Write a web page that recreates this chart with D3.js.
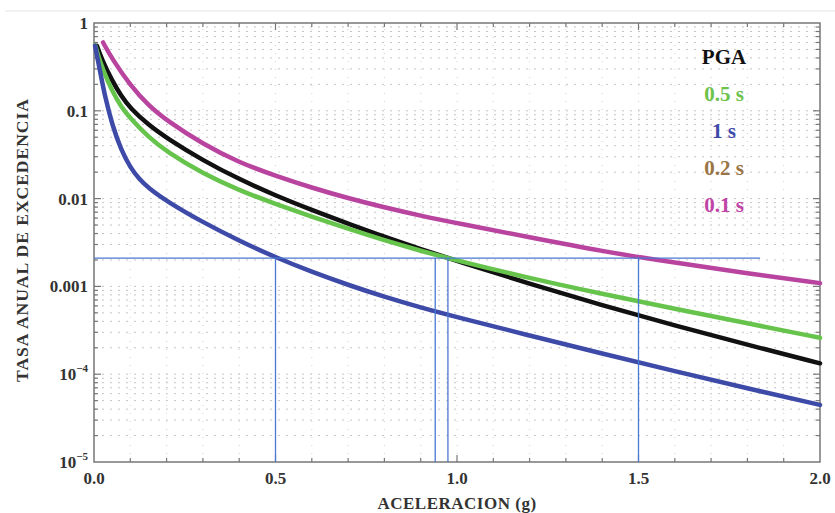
<!DOCTYPE html>
<html>
<head>
<meta charset="utf-8">
<script src="https://cdn.jsdelivr.net/npm/d3@7"></script>
<style>
  body { margin: 0; background: #fff; }
  svg text { font-family: "Liberation Serif", "DejaVu Serif", serif; font-weight: bold; }
</style>
</head>
<body>
<div id="chart"></div>
<script>
// Hazard curves - annual exceedance rate vs acceleration

const width = 835;
const height = 513;

// acceleration (g) and exceedance rate for each curve
const pgaX   = [0.008, 0.02, 0.05, 0.075, 0.1, 0.15, 0.2, 0.3, 0.4, 0.5, 0.6, 0.7, 0.8, 0.9, 1.0, 1.2, 1.4, 1.6, 1.8, 2.0];
const pgaY   = [0.55, 0.398, 0.219, 0.148, 0.107, 0.0692, 0.049, 0.0272, 0.0166, 0.01084, 0.00741, 0.00519, 0.00367, 0.00266, 0.00195, 0.00107, 0.00061, 0.000359, 0.000216, 0.000133];

const s05X   = [0.003, 0.012, 0.025, 0.05, 0.075, 0.1, 0.15, 0.2, 0.3, 0.4, 0.5, 0.6, 0.7, 0.8, 0.9, 1.0, 1.2, 1.4, 1.6, 1.8, 2.0];
const s05Y   = [0.56, 0.417, 0.29, 0.167, 0.111, 0.082, 0.0501, 0.0342, 0.0192, 0.0124, 0.0087, 0.00624, 0.00452, 0.00335, 0.00254, 0.00197, 0.00124, 0.00082, 0.000556, 0.00038, 0.00026];

const s1X    = [0.003, 0.01, 0.02, 0.03, 0.05, 0.075, 0.1, 0.125, 0.15, 0.2, 0.3, 0.4, 0.5, 0.6, 0.7, 0.8, 0.9, 1.0, 1.2, 1.4, 1.6, 1.8, 2.0];
const s1Y    = [0.55, 0.389, 0.24, 0.148, 0.0692, 0.0355, 0.0226, 0.0166, 0.0132, 0.00933, 0.00537, 0.00331, 0.00214, 0.00146, 0.00104, 0.000759, 0.000575, 0.000447, 0.000275, 0.000172, 0.000108, 0.000069, 0.0000447];

const s01X   = [0.025, 0.05, 0.1, 0.15, 0.2, 0.3, 0.4, 0.5, 0.6, 0.7, 0.8, 0.9, 1.0, 1.2, 1.4, 1.6, 1.8, 2.0];
const s01Y   = [0.6, 0.389, 0.195, 0.115, 0.0776, 0.0417, 0.0257, 0.0182, 0.0133, 0.0101, 0.00794, 0.00638, 0.00525, 0.00363, 0.00251, 0.00186, 0.00141, 0.00109];

const refRate = 0.0021;
const refRateEnd = 1.835;
const refAccel = [0.5, 0.94, 0.975, 1.5];

const xTicks = [0, 0.5, 1.0, 1.5, 2.0];
const xTickLabels = ["0.0", "0.5", "1.0", "1.5", "2.0"];
const yTicks = [1, 0.1, 0.01, 0.001, 1e-4, 1e-5];
const yTickLabels = ["1", "0.1", "0.01", "0.001", "10|−4", "10|−5"];

const legendNames = ["PGA", "0.5 s", "1 s", "0.2 s", "0.1 s"];
const legendColors = ["#111111", "#6cc24a", "#3e4aa8", "#9a7444", "#c043a6"];

const series = [
  { name: "PGA", xs: pgaX, ys: pgaY, color: "#111111" },
  { name: "0.5 s", xs: s05X, ys: s05Y, color: "#66c44c" },
  { name: "1 s", xs: s1X, ys: s1Y, color: "#3e4aa8" },
  { name: "0.1 s", xs: s01X, ys: s01Y, color: "#b8449f" }
];

const margin = { left: 94, right: 15, top: 23, bottom: 51 };

const x = d3.scaleLinear().domain([0, 2]).range([margin.left, width - margin.right]);
const y = d3.scaleLog().domain([1e-5, 1]).range([height - margin.bottom, margin.top]);

const svg = d3.select("#chart").append("svg")
  .attr("width", width)
  .attr("height", height);

// faint line at top of the picture
svg.append("line")
  .attr("x1", 5).attr("x2", width).attr("y1", 11).attr("y2", 11)
  .attr("stroke", "#e3e3e3").attr("stroke-width", 1);

// grid
const minorY = [];
for (let e = -5; e < 0; e++) {
  for (let m = 1; m <= 9; m++) minorY.push(m * Math.pow(10, e));
}
const minorX = d3.range(0, 21).map(i => i / 10);

const grid = svg.append("g");
grid.selectAll("line.h")
  .data(minorY.filter(v => v > 1e-5))
  .enter().append("line")
  .attr("x1", x(0)).attr("x2", x(2))
  .attr("y1", d => y(d)).attr("y2", d => y(d))
  .attr("stroke", "#c4c4c4").attr("stroke-width", 1)
  .attr("stroke-dasharray", "2,6");
grid.selectAll("line.v")
  .data(minorX.slice(1, -1))
  .enter().append("line")
  .attr("x1", d => x(d)).attr("x2", d => x(d))
  .attr("y1", y(1e-5)).attr("y2", y(1))
  .attr("stroke", "#d2d2d2").attr("stroke-width", 1)
  .attr("stroke-dasharray", "1,7");

// frame
svg.append("rect")
  .attr("x", x(0)).attr("y", y(1))
  .attr("width", x(2) - x(0)).attr("height", y(1e-5) - y(1))
  .attr("fill", "none").attr("stroke", "#777").attr("stroke-width", 1.5);

// inward ticks
const ticks = svg.append("g").attr("stroke", "#777").attr("stroke-width", 1.2);
minorX.slice(1, -1).forEach(v => {
  const len = (Math.round(v * 10) % 5 === 0) ? 7 : 4;
  ticks.append("line").attr("x1", x(v)).attr("x2", x(v)).attr("y1", y(1e-5)).attr("y2", y(1e-5) - len);
  ticks.append("line").attr("x1", x(v)).attr("x2", x(v)).attr("y1", y(1)).attr("y2", y(1) + len);
});
minorY.filter(v => v > 1e-5).forEach(v => {
  const major = Math.abs(Math.log10(v) - Math.round(Math.log10(v))) < 1e-9;
  const len = major ? 7 : 4;
  ticks.append("line").attr("x1", x(0)).attr("x2", x(0) + len).attr("y1", y(v)).attr("y2", y(v));
  ticks.append("line").attr("x1", x(2)).attr("x2", x(2) - len).attr("y1", y(v)).attr("y2", y(v));
});

// curves
const line = d3.line()
  .x(d => x(d[0]))
  .y(d => y(d[1]))
  .curve(d3.curveBasis);

svg.append("g").selectAll("path")
  .data(series)
  .enter().append("path")
  .attr("d", d => line(d.xs.map((v, i) => [v, d.ys[i]])))
  .attr("fill", "none")
  .attr("stroke", d => d.color)
  .attr("stroke-width", 4.5)
  .attr("stroke-linecap", "round")
  .attr("stroke-linejoin", "round");

// reference lines
const ref = svg.append("g").attr("stroke", "#4a78d2").attr("stroke-width", 1.3);
ref.append("line")
  .attr("x1", x(0)).attr("x2", x(refRateEnd))
  .attr("y1", y(refRate)).attr("y2", y(refRate));
ref.selectAll("line.v")
  .data(refAccel)
  .enter().append("line")
  .attr("x1", d => x(d)).attr("x2", d => x(d))
  .attr("y1", y(refRate)).attr("y2", y(1e-5));

// x tick labels
svg.append("g").selectAll("text")
  .data(xTicks)
  .enter().append("text")
  .attr("x", d => x(d))
  .attr("y", y(1e-5) + 22)
  .attr("text-anchor", "middle")
  .attr("font-size", 17)
  .attr("fill", "#333")
  .text((d, i) => xTickLabels[i]);

// y tick labels
const yl = svg.append("g").selectAll("text")
  .data(yTicks)
  .enter().append("text")
  .attr("x", x(0) - 6)
  .attr("y", d => y(d) + 6)
  .attr("text-anchor", "end")
  .attr("font-size", 17)
  .attr("fill", "#333");
yl.each(function(d, i) {
  const parts = yTickLabels[i].split("|");
  const t = d3.select(this);
  if (parts.length === 1) {
    t.text(parts[0]);
  } else {
    t.append("tspan").text(parts[0]);
    t.append("tspan").attr("dy", -8).attr("font-size", 11).text(parts[1]);
  }
});

// axis titles
svg.append("text")
  .attr("x", x(1)).attr("y", 509)
  .attr("text-anchor", "middle")
  .attr("font-size", 17)
  .attr("letter-spacing", 0.5)
  .attr("fill", "#333")
  .text("ACELERACION (g)");

svg.append("text")
  .attr("transform", "translate(28," + 240 + ") rotate(-90)")
  .attr("text-anchor", "middle")
  .attr("font-size", 17.5)
  .attr("letter-spacing", 1)
  .attr("fill", "#333")
  .text("TASA ANUAL DE EXCEDENCIA");

// legend
svg.append("g").selectAll("text")
  .data(legendNames)
  .enter().append("text")
  .attr("x", 724)
  .attr("y", (d, i) => 64 + i * 37)
  .attr("text-anchor", "middle")
  .attr("font-size", 21)
  .attr("fill", (d, i) => legendColors[i])
  .text(d => d);
</script>
</body>
</html>
